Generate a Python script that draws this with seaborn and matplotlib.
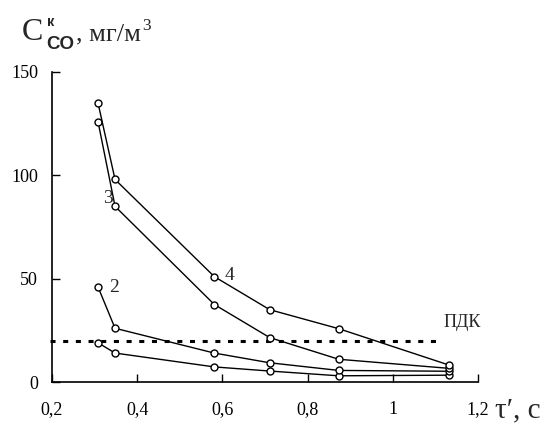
import matplotlib
matplotlib.use("Agg")
import matplotlib.pyplot as plt
import seaborn as sns
import pandas as pd

# ---- data ----
tau = [0.308, 0.348, 0.581, 0.711, 0.873, 1.132]
curve1 = [19, 14, 7.3, 5.3, 3.0, 3.3]
curve2 = [46, 26, 14, 9.3, 5.6, 5.2]
curve3 = [126, 85, 37.5, 21.5, 11, 6.6]
curve4 = [135, 98, 51, 35, 25.8, 8.2]
curve_names = ["1", "2", "3", "4"]
pdk_value = 20
x_ticks = [0.2, 0.4, 0.6, 0.8, 1.0, 1.2]
x_tick_labels = ["0,2", "0,4", "0,6", "0,8", "1", "1,2"]
y_ticks = [0, 50, 100, 150]
y_tick_labels = ["0", "50", "100", "150"]

df = pd.DataFrame({
    "tau": tau * 4,
    "c": curve1 + curve2 + curve3 + curve4,
    "curve": sum([[n] * len(tau) for n in curve_names], []),
})

sns.set_theme(style="white")
plt.rcParams["font.family"] = ["Liberation Serif", "DejaVu Serif"]

W, H = 555, 423
fig = plt.figure(figsize=(W / 100, H / 100), dpi=100)
ax = fig.add_axes([52 / W, 1 - 382 / H, (478 - 52) / W, (382 - 72) / H])

sns.lineplot(data=df, x="tau", y="c", hue="curve", palette=["black"] * 4,
             estimator=None, sort=False, legend=False, ax=ax,
             linewidth=1.0, marker="o", markersize=5,
             markerfacecolor="white", markeredgecolor="black", markeredgewidth=1.0,
             zorder=3)

# PDK line
ax.plot([0.195, 1.111], [pdk_value, pdk_value], color="black",
        linewidth=2.2, linestyle=(0, (1.65, 2.5)), clip_on=False, zorder=2)

ax.set_xlim(0.2, 1.2)
ax.set_ylim(0, 150)
ax.set_xticks(x_ticks)
ax.set_xticklabels(x_tick_labels)
ax.set_yticks(y_ticks)
ax.set_yticklabels(y_tick_labels)
ax.set_xlabel("")
ax.set_ylabel("")
for s in ["top", "right"]:
    ax.spines[s].set_visible(False)
for s in ["left", "bottom"]:
    ax.spines[s].set_color("black")
    ax.spines[s].set_linewidth(1.2)
ax.tick_params(axis="x", direction="in", length=6, width=1, pad=14, labelsize=13, colors="black",
               bottom=True)
ax.tick_params(axis="y", direction="in", length=6, width=1, pad=10, labelsize=13, colors="black",
               left=True)

# curve labels
ax.text(0.332, 89, "3", fontsize=14, ha="center", va="center")
ax.text(0.617, 51.5, "4", fontsize=14, ha="center", va="center")
ax.text(0.345, 45.5, "2", fontsize=14, ha="center", va="center")
ax.text(1.162, 29, "ПДК", fontsize=13, ha="center", va="center")

# axis titles (pixel positions from the top-left corner)
def px(x, y):
    return x / W, 1 - y / H

fig.text(*px(22, 40), "C", fontsize=23, ha="left", va="baseline")
fig.text(*px(47.5, 26.5), "к", fontsize=10.5, fontweight="bold",
         family=["Liberation Sans", "DejaVu Sans"], ha="left", va="baseline")
fig.text(*px(46, 49), "CO", fontsize=13.5, fontweight="bold",
         family=["Liberation Sans", "DejaVu Sans"], ha="left", va="baseline")
unit = fig.text(*px(76, 40), ", мг/м", fontsize=19, ha="left", va="baseline")
fig.canvas.draw()
bb = unit.get_window_extent()
fig.text((bb.x1 + 1) / W, 1 - 30 / H, "3", fontsize=12.5, ha="left", va="baseline")

fig.text(*px(495, 417), "τ′, с", fontsize=21, ha="left", va="baseline")

fig.savefig("out.png", dpi=100)
